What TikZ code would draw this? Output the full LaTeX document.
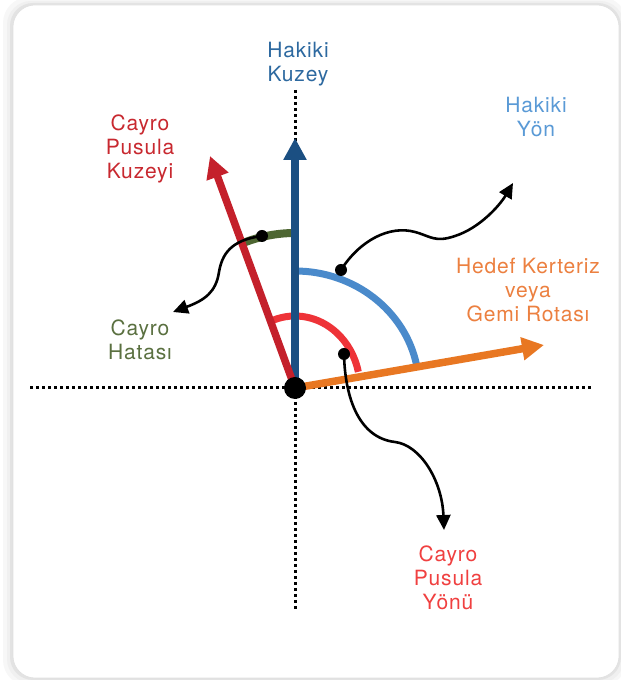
\documentclass[tikz,border=0pt]{standalone}
\usepackage{fontspec}
\setmainfont{TeX Gyre Heros}[LetterSpace=4]
\usetikzlibrary{arrows.meta,calc}
\definecolor{nblue}{RGB}{27,79,130}
\definecolor{nbluet}{RGB}{45,105,160}
\definecolor{lblue}{RGB}{74,138,203}
\definecolor{lbluet}{RGB}{90,154,214}
\definecolor{dred}{RGB}{196,32,43}
\definecolor{dredt}{RGB}{200,40,47}
\definecolor{bred}{RGB}{238,51,56}
\definecolor{bredt}{RGB}{240,64,64}
\definecolor{orng}{RGB}{232,119,34}
\definecolor{orngt}{RGB}{236,128,64}
\definecolor{olive}{RGB}{77,102,50}
\definecolor{olivet}{RGB}{90,112,64}
\tikzset{
  lbl/.style={align=center, inner sep=0pt, font=\fontsize{21}{24}\selectfont},
  mainarrow/.style={line width=7.5pt, -{Triangle[length=22pt,width=22pt]}},
  arcline/.style={line width=7pt},
  callout/.style={line width=2.6pt, -{Triangle[length=15pt,width=14pt]}},
  dotline/.style={line width=3pt, dash pattern=on 3pt off 3pt},
  blob/.style={circle, fill=black, inner sep=0pt, minimum size=#1}
}
\begin{document}
\begin{tikzpicture}[x=1pt,y=1pt]
\useasboundingbox (0,0) rectangle (621,680);
% frame with soft shadow
\fill[black!3, rounded corners=26pt] (3,-6) rectangle (627,683);
\fill[black!6, rounded corners=24pt] (7,-3) rectangle (624,679);
\fill[black!11, rounded corners=23pt] (10,0) rectangle (621,677);
\fill[white, draw=black!12, line width=0.6pt, rounded corners=22pt] (13,2) rectangle (619,675);
% coordinates
\coordinate (O) at (295,292);
\coordinate (L) at (30,292);
\coordinate (R) at (592,292);
\coordinate (T) at (295,590);
\coordinate (B) at (295,70);
\coordinate (nTip) at (295,542);
\coordinate (rTip) at (210,524);
\coordinate (oTip) at (544,335);
% dotted axes
\draw[dotline] (L) -- (R);
\draw[dotline] (T) -- (B);
% arcs
\draw[arcline, lblue] (295,409) arc[start angle=90, end angle=11, x radius=124pt, y radius=117pt];
\draw[arcline, bred] ($(O)+(110:65pt and 72pt)$) arc[start angle=110, end angle=13, x radius=65pt, y radius=72pt];
\draw[line width=8pt, olive] (295,447) arc[start angle=90, end angle=110, x radius=147pt, y radius=155pt];
% main arrows
\draw[mainarrow, nblue] (O) -- (nTip);
\draw[mainarrow, dred] (O) -- (rTip);
\draw[mainarrow, orng] (O) -- (oTip);
% callouts
\node[blob=12pt] (gd) at (262,444) {};
\node[blob=12pt] (bd) at (341,410) {};
\node[blob=12pt] (rd) at (344,326) {};
\coordinate (gEnd) at (173,368);
\coordinate (bEnd) at (513,497);
\coordinate (rEnd) at (444,150);
\draw[callout] (gd.center) .. controls (230,440) and (222,425) .. (219,408) .. controls (216,388) and (205,380) .. (gEnd);
\draw[callout] (bd.center) .. controls (360,440) and (390,455) .. (415,448) .. controls (430,444) and (435,437) .. (455,444) .. controls (480,452) and (500,475) .. (bEnd);
\draw[callout] (rd.center) .. controls (345,280) and (360,242) .. (395,238) .. controls (420,235) and (442,200) .. (rEnd);
\node[blob=22pt] (Odot) at (O) {};
% labels
\node[lbl, text=nbluet] (hk) at (298,616) {Hakiki\\Kuzey};
\node[lbl, text=lbluet] (hy) at (536,563) {Hakiki\\Yön};
\node[lbl, text=dredt] (cpk) at (140,531) {Cayro\\Pusula\\Kuzeyi};
\node[lbl, text=olivet] (ch) at (140,340) {Cayro\\Hatası};
\node[lbl, text=orngt] (hd) at (528,390) {Hedef Kerteriz\\veya\\Gemi Rotası};
\node[lbl, text=bredt] (cpy) at (448,102) {Cayro\\Pusula\\Yönü};
\end{tikzpicture}
\end{document}
